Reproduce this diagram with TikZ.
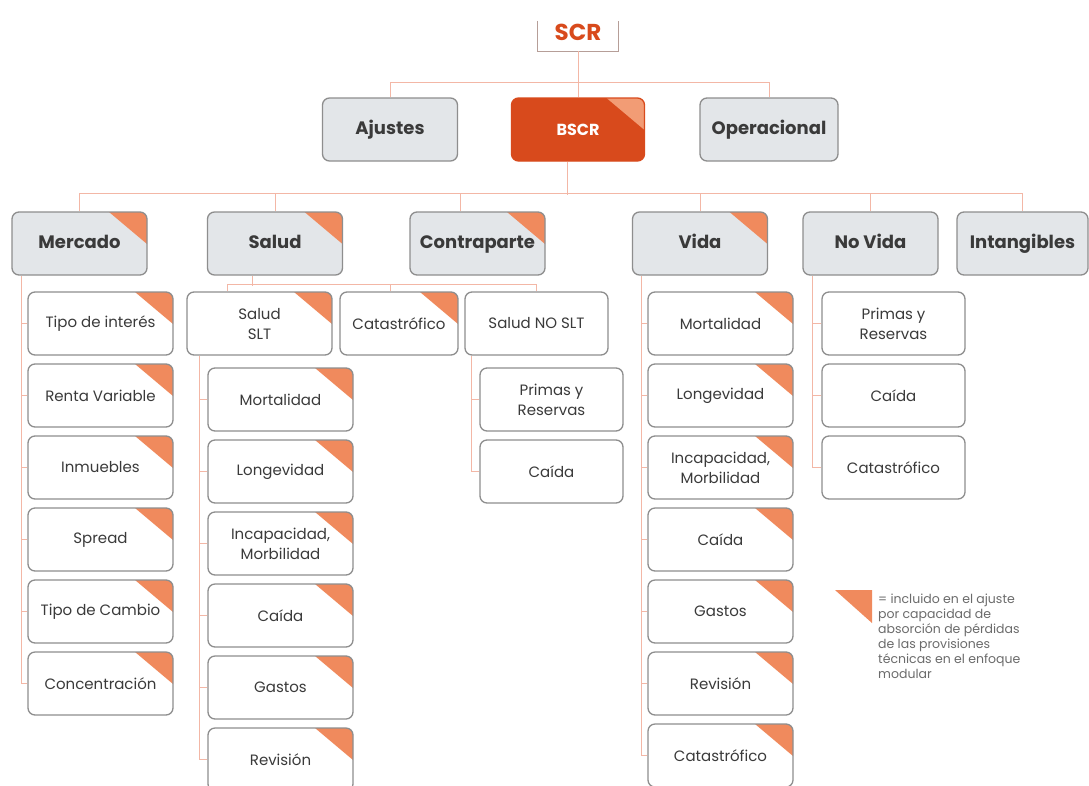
\documentclass[tikz,border=0pt]{standalone}
\usepackage{fontspec}
\setmainfont{Poppins}
\definecolor{flagc}{HTML}{F08A5D}
\definecolor{bscrc}{HTML}{D84A1C}
\definecolor{boxline}{HTML}{8E8E8E}
\definecolor{greyfill}{HTML}{E3E6E9}
\definecolor{linkc}{HTML}{F3B7A6}
\definecolor{txt}{HTML}{3A3A3A}
\begin{document}
\begin{tikzpicture}[x=1pt,y=-1pt,
    box/.style={draw=boxline,line width=1.3pt,rounded corners=7pt,minimum height=63pt,align=center,text=txt},
    head/.style={box,fill=greyfill,minimum width=135pt,text height=13pt,text depth=4pt,font=\fontsize{18}{22}\selectfont\bfseries},
    item/.style={box,fill=white,minimum width=145pt,font=\fontsize{15}{20}\selectfont},
    flag/.style={path picture={\fill[#1,sharp corners] (path picture bounding box.north east) -- ++(-38pt,0) -- ++(38pt,-32pt) -- cycle;}},
    flag/.default=flagc,
    link/.style={draw=linkc,line width=1pt}]
  \useasboundingbox[fill=white] (0,0) rectangle (1089,785);
  % top
  \node[minimum width=81pt,minimum height=22pt,text=bscrc,font=\fontsize{23}{23}\selectfont\bfseries] (scr) at (578,36) {\raisebox{7pt}{SCR}};
  \draw[draw=boxline!60!linkc,line width=1pt] (scr.north west) -- (scr.south west) -- (scr.south east) -- (scr.north east);
  \node[head] (ajustes) at (390,129.5) {Ajustes};
  \node[box,fill=bscrc,draw=bscrc,text=white,minimum width=133pt,font=\fontsize{16}{20}\selectfont\bfseries,flag=flagc!85!white] (bscr) at (578,129.5) {BSCR};
  \node[head,minimum width=138pt] (oper) at (769,129.5) {Operacional};
  \draw[link] (scr.south) -- (bscr.north);
  \draw[link] (ajustes.north) -- ++(0,-15) -| (oper.north);
  % modules
  \node[head,flag] (mercado) at (79.5,243.5) {Mercado};
  \node[head,flag] (salud) at (275,243.5) {Salud};
  \node[head,flag] (contra) at (477.5,243.5) {Contraparte};
  \node[head,flag] (vida) at (700,243.5) {Vida};
  \node[head] (novida) at (870.5,243.5) {No Vida};
  \node[head,minimum width=131pt] (intang) at (1022.5,243.5) {Intangibles};
  \draw[link] ([xshift=-11pt]bscr.south) -- ++(0,33);
  \draw[link] (mercado.north) -- ++(0,-18) -| (intang.north);
  \foreach \n in {salud,vida,novida}
    \draw[link] (\n.north) -- ++(0,-18);
  \draw[link] ([xshift=-17pt]contra.north) -- ++(0,-18);
  % mercado
  \foreach \t [count=\i from 0] in {Tipo de interés,Renta Variable,Inmuebles,Spread,Tipo de Cambio,Concentración}
    \node[item,flag] (m\i) at (100.5,323.5+72*\i) {\t};
  \coordinate (ms) at ([xshift=10pt]mercado.south west);
  \draw[link] (ms) |- (m5.west);
  \foreach \i in {0,...,4}
    \draw[link] (m\i.west) -- (m\i.west -| ms);
  % salud
  \node[item,flag] (slt) at (259.5,323.5) {Salud\\SLT};
  \node[item,flag,minimum width=118pt] (cat) at (399,323.5) {Catastrófico};
  \node[item,minimum width=143pt] (nslt) at (536.5,323.5) {Salud NO SLT};
  \draw[link] ([xshift=-23pt]salud.south) -- ++(0,10);
  \draw[link] ([xshift=-32pt]slt.north) -- ++(0,-7) -| (nslt.north);
  \draw[link] ([xshift=-9pt]cat.north) -- ++(0,-7);
  \foreach \t [count=\i from 0] in {Mortalidad,Longevidad,{Incapacidad,\\Morbilidad},Caída,Gastos,Revisión}
    \node[item,flag] (s\i) at (280.5,399.5+72*\i) {\t};
  \coordinate (ss) at ([xshift=13pt]slt.south west);
  \draw[link] (ss) |- (s5.west);
  \foreach \i in {0,...,4}
    \draw[link] (s\i.west) -- (s\i.west -| ss);
  \node[item,minimum width=143pt] (n0) at (551.5,399.5) {Primas y\\Reservas};
  \node[item,minimum width=143pt] (n1) at (551.5,471.5) {Caída};
  \coordinate (ns) at ([xshift=7pt]nslt.south west);
  \draw[link] (ns) |- (n1.west);
  \draw[link] (n0.west) -- (n0.west -| ns);
  % vida
  \foreach \t [count=\i from 0] in {Mortalidad,Longevidad,{Incapacidad,\\Morbilidad},Caída,Gastos,Revisión,Catastrófico}
    \node[item,flag] (v\i) at (720.5,323.5+72*\i) {\t};
  \coordinate (vs) at ([xshift=10pt]vida.south west);
  \draw[link] (vs) |- (v6.west);
  \foreach \i in {0,...,5}
    \draw[link] (v\i.west) -- (v\i.west -| vs);
  % no vida
  \foreach \t [count=\i from 0] in {{Primas y\\Reservas},Caída,Catastrófico}
    \node[item,minimum width=143pt] (nv\i) at (893.5,323.5+72*\i) {\t};
  \coordinate (nvs) at ([xshift=10pt]novida.south west);
  \draw[link] (nvs) |- (nv2.west);
  \foreach \i in {0,1}
    \draw[link] (nv\i.west) -- (nv\i.west -| nvs);
  % legend
  \fill[flagc] (835,590) -- (872,590) -- (872,623) -- cycle;
  \node[anchor=north west,align=left,text=txt!75,font=\fontsize{12.5}{15}\selectfont,inner sep=0pt] (legend) at (878,594)
    {= incluido en el ajuste\\por capacidad de\\absorción de pérdidas\\de las provisiones\\técnicas en el enfoque\\modular};
\end{tikzpicture}
\end{document}
